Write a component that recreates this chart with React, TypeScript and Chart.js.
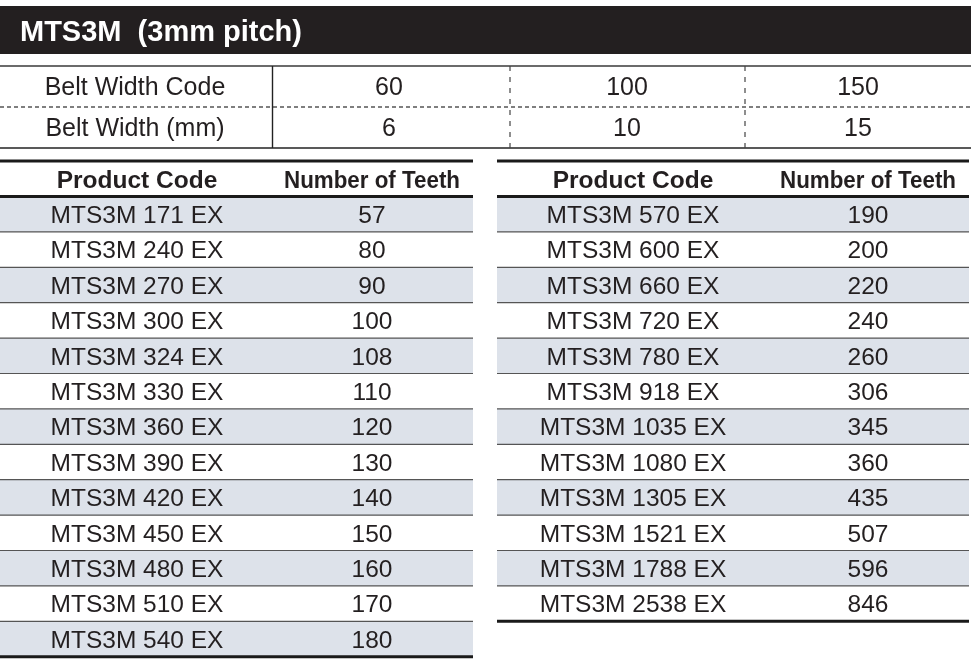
import { useEffect, useRef } from "react";
import { Chart, registerables } from "chart.js";

Chart.register(...registerables);

// ---------- data ----------
const titleText = "MTS3M  (3mm pitch)";
const beltRowLabels = ["Belt Width Code", "Belt Width (mm)"];
const beltWidthCodes = ["60", "100", "150"];
const beltWidthsMm = ["6", "10", "15"];
const productHeaders = ["Product Code", "Number of Teeth"];
const leftProductCodes = [
  "MTS3M 171 EX", "MTS3M 240 EX", "MTS3M 270 EX", "MTS3M 300 EX", "MTS3M 324 EX",
  "MTS3M 330 EX", "MTS3M 360 EX", "MTS3M 390 EX", "MTS3M 420 EX", "MTS3M 450 EX",
  "MTS3M 480 EX", "MTS3M 510 EX", "MTS3M 540 EX",
];
const leftTeeth = [57, 80, 90, 100, 108, 110, 120, 130, 140, 150, 160, 170, 180];
const rightProductCodes = [
  "MTS3M 570 EX", "MTS3M 600 EX", "MTS3M 660 EX", "MTS3M 720 EX", "MTS3M 780 EX",
  "MTS3M 918 EX", "MTS3M 1035 EX", "MTS3M 1080 EX", "MTS3M 1305 EX", "MTS3M 1521 EX",
  "MTS3M 1788 EX", "MTS3M 2538 EX",
];
const rightTeeth = [190, 200, 220, 240, 260, 306, 345, 360, 435, 507, 596, 846];

// ---------- layout (scale units) ----------
const LAYOUT = {
  W: 971,
  H: 669,
  titleTop: 6,
  titleBottom: 54,
  titleX: 20,
  titleCenter: 31,
  beltTop: 66,
  beltMid: 107,
  beltBottom: 148,
  beltLabelX: 135,
  beltSplitX: 272.5,
  beltDashX: [510, 745],
  beltValueX: [389, 627, 858],
  prodTop: 161,
  prodHeadBottom: 196.5,
  rowH: 35.4,
  tables: [
    { x0: 0, x1: 473, codeX: 137, teethX: 372 },
    { x0: 497, x1: 969, codeX: 633, teethX: 868 },
  ],
};

const FONT = '"Liberation Sans", Arial, Helvetica, sans-serif';
const INK = "#231f20";
const SHADE = "#dde2ea";

const tablePlugin = {
  id: "tablePlugin",
  afterDraw(chart: any) {
    const ctx: CanvasRenderingContext2D = chart.ctx;
    const xs = chart.scales.x;
    const ys = chart.scales.y;
    const px = (v: number) => xs.getPixelForValue(v);
    const py = (v: number) => ys.getPixelForValue(v);
    const L = LAYOUT;

    const text = (
      s: string,
      x: number,
      yc: number,
      size: number,
      bold: boolean,
      color: string,
      align: CanvasTextAlign,
      maxW?: number
    ) => {
      ctx.save();
      ctx.font = `${bold ? "bold " : ""}${size}px ${FONT}`;
      ctx.fillStyle = color;
      ctx.textAlign = align;
      ctx.textBaseline = "alphabetic";
      const base = py(yc) + size * 0.358;
      if (maxW) ctx.fillText(s, px(x), base, maxW);
      else ctx.fillText(s, px(x), base);
      ctx.restore();
    };
    const hline = (x0: number, x1: number, y: number, w: number, color: string, dash: number[] = []) => {
      ctx.save();
      ctx.strokeStyle = color;
      ctx.lineWidth = w;
      ctx.setLineDash(dash);
      ctx.beginPath();
      ctx.moveTo(px(x0), py(y));
      ctx.lineTo(px(x1), py(y));
      ctx.stroke();
      ctx.restore();
    };
    const vline = (x: number, y0: number, y1: number, w: number, color: string, dash: number[] = []) => {
      ctx.save();
      ctx.strokeStyle = color;
      ctx.lineWidth = w;
      ctx.setLineDash(dash);
      ctx.beginPath();
      ctx.moveTo(px(x), py(y0));
      ctx.lineTo(px(x), py(y1));
      ctx.stroke();
      ctx.restore();
    };

    // title bar
    ctx.save();
    ctx.fillStyle = INK;
    ctx.fillRect(px(0), py(L.titleTop), px(L.W) - px(0), py(L.titleBottom) - py(L.titleTop));
    ctx.restore();
    text(titleText, L.titleX, L.titleCenter, 29, true, "#ffffff", "left");

    // belt width table
    hline(0, L.W, L.beltTop, 1.6, "#3a3a3a");
    hline(0, L.W, L.beltMid, 1.3, "#555555", [4, 3]);
    hline(0, L.W, L.beltBottom, 1.6, "#222222");
    vline(L.beltSplitX, L.beltTop, L.beltBottom, 1.4, "#222222");
    L.beltDashX.forEach((x) => vline(x, L.beltTop, L.beltBottom, 1.2, "#444444", [5, 6]));
    const beltRows = [beltWidthCodes, beltWidthsMm];
    const beltCenters = [(L.beltTop + L.beltMid) / 2, (L.beltMid + L.beltBottom) / 2];
    beltRowLabels.forEach((lab, r) => {
      text(lab, L.beltLabelX, beltCenters[r], 25, false, INK, "center");
      beltRows[r].forEach((v, c) => text(String(v), L.beltValueX[c], beltCenters[r], 25, false, INK, "center"));
    });

    // product tables
    const tablesData = [
      { codes: leftProductCodes, teeth: leftTeeth },
      { codes: rightProductCodes, teeth: rightTeeth },
    ];
    tablesData.forEach((td, t) => {
      const T = L.tables[t];
      const n = td.codes.length;
      const rowTop = (i: number) => L.prodHeadBottom + i * L.rowH;
      // shading
      for (let i = 0; i < n; i++) {
        if (i % 2 === 0) {
          ctx.save();
          ctx.fillStyle = SHADE;
          ctx.fillRect(px(T.x0), py(rowTop(i)), px(T.x1) - px(T.x0), py(rowTop(i + 1)) - py(rowTop(i)));
          ctx.restore();
        }
      }
      // separators
      for (let i = 1; i < n; i++) hline(T.x0, T.x1, rowTop(i), 1.2, "#555555");
      // thick lines
      hline(T.x0, T.x1, L.prodTop, 3, "#1a1a1a");
      hline(T.x0, T.x1, L.prodHeadBottom, 3, "#1a1a1a");
      hline(T.x0, T.x1, rowTop(n), 3, "#1a1a1a");
      // header
      const hc = (L.prodTop + L.prodHeadBottom) / 2;
      text(productHeaders[0], T.codeX, hc, 24.5, true, INK, "center");
      text(productHeaders[1], T.teethX, hc, 24.5, true, INK, "center", 176);
      // rows
      for (let i = 0; i < n; i++) {
        const c = (rowTop(i) + rowTop(i + 1)) / 2;
        text(td.codes[i], T.codeX, c, 24.5, false, INK, "center");
        text(String(td.teeth[i]), T.teethX, c, 24.5, false, INK, "center");
      }
    });
  },
};

export default function App() {
  const ref = useRef<HTMLCanvasElement | null>(null);
  useEffect(() => {
    document.body.style.margin = "0";
    document.body.style.background = "#ffffff";
    if (!ref.current) return;
    const chart = new Chart(ref.current, {
      type: "scatter",
      data: { datasets: [] },
      options: {
        animation: false,
        responsive: false,
        maintainAspectRatio: false,
        layout: { padding: 0 },
        plugins: { legend: { display: false }, tooltip: { enabled: false } },
        scales: {
          x: { type: "linear", min: 0, max: LAYOUT.W, display: false },
          y: { type: "linear", min: 0, max: LAYOUT.H, reverse: true, display: false },
        },
      },
      plugins: [tablePlugin],
    });
    return () => chart.destroy();
  }, []);
  return (
    <div style={{ width: LAYOUT.W, height: LAYOUT.H, background: "#fff" }}>
      <canvas ref={ref} width={LAYOUT.W} height={LAYOUT.H} style={{ display: "block", width: LAYOUT.W, height: LAYOUT.H }} />
    </div>
  );
}
